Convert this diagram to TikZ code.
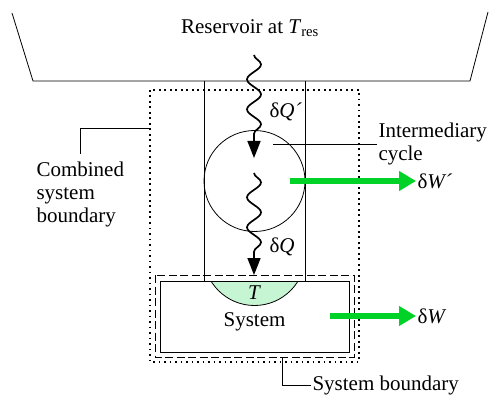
\documentclass[tikz,border=0pt]{standalone}
\usepackage{fontspec}
\setmainfont{Liberation Serif}
\usetikzlibrary{arrows.meta,decorations.pathmorphing,positioning}
\definecolor{workgreen}{RGB}{0,210,40}
\definecolor{capgreen}{RGB}{198,245,212}

\begin{document}
\begin{tikzpicture}[x=1pt,y=-1pt,line width=0.8pt,>=Stealth,
  font=\fontsize{21}{23}\selectfont,
  lbl/.style={inner sep=0pt,outer sep=1.5pt},
  heat/.style={line width=1.7pt,decorate,decoration={snake,segment length=30pt,
    amplitude=7pt,post length=20pt},-{Triangle[length=17pt,width=13pt]}},
  work/.style={workgreen,line width=6.5pt,-{Triangle[length=17pt,width=19pt]}},
  leader/.style={line width=0.7pt}]
\useasboundingbox (0,0) rectangle (489,395);
% reservoir
\draw (12,13) -- (33,81) -- (470,81) -- (488,12);
\node[lbl] (res) at (250,28) {Reservoir at \textit{T}\textsubscript{res}};
% pipe walls
\foreach \x in {204,305}{
  \draw (\x,81) -- (\x,281);
}
% combined boundary (dotted) and system boundary (dashed)
\draw[line width=1.8pt,dash pattern=on 1.8pt off 3.7pt] (150,90) rectangle (359,362);
\draw[line width=0.9pt,dash pattern=on 8pt off 3.5pt] (155,275) rectangle (354,357);
% contact region at T
\begin{scope}
  \clip (160,281) rectangle (349,352);
  \draw[fill=capgreen] (254.5,254.5) circle (51pt);
\end{scope}
\draw (160,281) rectangle (349,352);
\node[lbl] (tcap) at (254.5,293) {\textit{T}};
\node[lbl] (sys) at (254.5,322) {System};
% intermediary cycle
\node[draw,circle,minimum size=101pt,inner sep=0pt] (cycle) at (254.5,181) {};
% heat flows
\coordinate (q1a) at (254,55);
\coordinate (q1b) at (254,158);
\coordinate (q2a) at (254,173);
\coordinate (q2b) at (254,275);
\draw[heat] (q1a) -- (q1b);
\draw[heat] (q2a) -- (q2b);
\node[lbl,anchor=west] (dQp) at (268,112) {δ\textit{Q´}};
\node[lbl,anchor=west] (dQ) at (268,247) {δ\textit{Q}};
% work outputs
\node[lbl,anchor=west] (dWp) at (416,181) {δ\textit{W´}};
\node[lbl,anchor=west] (dW) at (416,316) {δ\textit{W}};
\coordinate (w1) at (290,181);
\coordinate (w2) at (330,316);
\draw[work] (w1) -- (dWp.west);
\draw[work] (w2) -- (dW.west);
% labels and leaders
\node[lbl,anchor=west,align=left] (inter) at (377,144) {Intermediary\\cycle};
\coordinate (ic) at (273,144);
\draw[leader] (inter.west) -- (ic);
\node[lbl,anchor=west,align=left] (comb) at (35,194) {Combined\\system\\boundary};
\coordinate (cb) at (150,128);
\draw[leader] ([yshift=6pt]comb.north) |- (cb);
\node[lbl,anchor=west] (sb) at (311,385) {System boundary};
\coordinate (sbb) at (282,358);
\draw[leader] (sb.west) -| (sbb);
\end{tikzpicture}
\end{document}
